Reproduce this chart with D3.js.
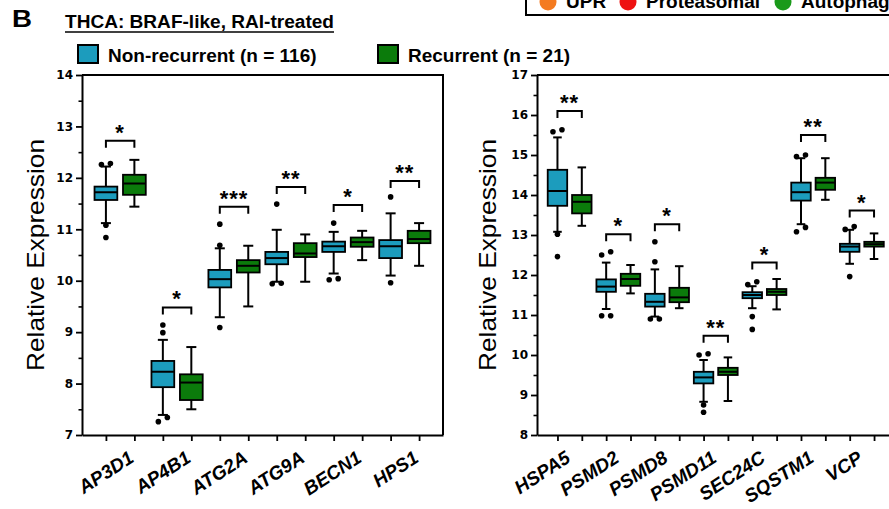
<!DOCTYPE html>
<html>
<head>
<meta charset="utf-8">
<script src="https://cdn.jsdelivr.net/npm/d3@7"></script>
<style>
  body { margin: 0; background: #fff; }
  svg { display: block; font-family: 'Liberation Sans', Arial, sans-serif; }
  .tick text { font-family: 'DejaVu Sans', sans-serif; font-weight: bold; font-size: 12px; }
</style>
</head>
<body>
<svg width="889" height="509"></svg>
<script>
// groups
const groupNames = ['Non-recurrent (n = 116)', 'Recurrent (n = 21)'];
const groupColors = ['#1c9cbd', '#0b7b0b'];
const pathwayNames = ['UPR', 'Proteasomal', 'Autophagy'];
const pathwayColors = ['#f47b20', '#ee1111', '#1a9a1a'];

// left panel: [whisker low, q1, median, q3, whisker high]
const leftGenes = ['AP3D1', 'AP4B1', 'ATG2A', 'ATG9A', 'BECN1', 'HPS1'];
const leftTicks = [7, 8, 9, 10, 11, 12, 13, 14];
const leftNonRec = [
  [11.12, 11.57, 11.72, 11.83, 12.22],
  [7.39, 7.93, 8.23, 8.44, 8.85],
  [9.29, 9.87, 10.03, 10.21, 10.63],
  [9.98, 10.32, 10.44, 10.56, 10.99],
  [10.14, 10.56, 10.67, 10.76, 10.95],
  [10.10, 10.44, 10.67, 10.79, 11.31]
];
const leftNonRecOut = [
  [12.26, 12.28, 11.08, 10.84],
  [8.99, 9.14, 7.34, 7.26],
  [10.69, 11.1, 9.09],
  [11.49, 9.94, 9.95],
  [11.12, 10.02, 10.04],
  [11.63, 9.96]
];
const leftRec = [
  [11.44, 11.67, 11.89, 12.06, 12.35],
  [7.50, 7.68, 8.02, 8.18, 8.71],
  [9.50, 10.16, 10.29, 10.40, 10.68],
  [9.98, 10.46, 10.53, 10.73, 10.90],
  [10.40, 10.66, 10.75, 10.84, 10.97],
  [10.29, 10.73, 10.81, 10.97, 11.12]
];
const leftRecOut = [[], [], [], [], [], []];
const leftSig = ['*', '*', '***', '**', '*', '**'];
const leftSigY = [12.72, 9.48, 11.44, 11.82, 11.47, 11.94];

// right panel
const rightGenes = ['HSPA5', 'PSMD2', 'PSMD8', 'PSMD11', 'SEC24C', 'SQSTM1', 'VCP'];
const rightTicks = [8, 9, 10, 11, 12, 13, 14, 15, 16, 17];
const rightNonRec = [
  [13.08, 13.73, 14.10, 14.63, 15.44],
  [11.15, 11.58, 11.71, 11.89, 12.31],
  [10.96, 11.21, 11.33, 11.53, 12.14],
  [8.83, 9.29, 9.44, 9.58, 9.875],
  [11.17, 11.42, 11.50, 11.57, 11.72],
  [13.27, 13.86, 14.07, 14.31, 14.92],
  [12.28, 12.58, 12.71, 12.78, 13.13]
];
const rightNonRecOut = [
  [15.58, 15.63, 13.02, 12.46],
  [12.50, 12.58, 10.98, 10.98],
  [12.33, 12.83, 10.90, 10.90],
  [10.0, 10.03, 8.75, 8.57],
  [11.76, 11.83, 10.96, 10.64],
  [14.96, 15.0, 13.19, 13.08],
  [13.14, 13.21, 11.96]
];
const rightRec = [
  [13.23, 13.54, 13.83, 14.0, 14.69],
  [11.54, 11.73, 11.90, 12.03, 12.25],
  [11.17, 11.32, 11.44, 11.68, 12.22],
  [8.85, 9.50, 9.58, 9.68, 9.94],
  [11.14, 11.50, 11.58, 11.65, 11.90],
  [13.88, 14.13, 14.31, 14.43, 14.92],
  [12.40, 12.71, 12.77, 12.83, 13.04]
];
const rightRecOut = [[], [], [], [], [], [], []];
const rightSig = ['**', '*', '*', '**', '*', '**', '*'];
const rightSigY = [16.1, 13.02, 13.27, 10.48, 12.31, 15.5, 13.61];

const svg = d3.select('svg');

// header
svg.append('text').attr('x', 12).attr('y', 27)
  .style('font-size', '23px').style('font-weight', 'bold')
  .attr('textLength', 20).attr('lengthAdjust', 'spacingAndGlyphs')
  .text('B');
svg.append('text').attr('x', 65).attr('y', 28)
  .style('font-size', '18px').style('font-weight', 'bold')
  .attr('textLength', 269).attr('lengthAdjust', 'spacingAndGlyphs')
  .text('THCA: BRAF-like, RAI-treated');
svg.append('line').attr('x1', 65).attr('x2', 334).attr('y1', 32).attr('y2', 32)
  .attr('stroke', '#000').attr('stroke-width', 1.5);

// group legend
const legX = [78, 378];
groupNames.forEach(function (name, i) {
  svg.append('rect').attr('x', legX[i]).attr('y', 45).attr('width', 20).attr('height', 18)
    .attr('fill', groupColors[i]).attr('stroke', '#000').attr('stroke-width', 2);
  svg.append('text').attr('x', legX[i] + 30).attr('y', 62)
    .style('font-size', '19px').style('font-weight', 'bold')
    .text(name);
});

// pathway legend (cut at top of the picture)
svg.append('rect').attr('x', 526).attr('y', -30).attr('width', 400).attr('height', 45)
  .attr('fill', 'none').attr('stroke', '#000').attr('stroke-width', 2);
const pathX = [548, 628, 783];
pathwayNames.forEach(function (name, i) {
  svg.append('circle').attr('cx', pathX[i]).attr('cy', 2).attr('r', 8.5)
    .attr('fill', pathwayColors[i]);
  svg.append('text').attr('x', pathX[i] + 18).attr('y', 8)
    .style('font-size', '19px').style('font-weight', 'bold')
    .text(name);
});

const drawPanel = function (cfg) {
  const g = svg.append('g');
  const y = d3.scaleLinear().domain(cfg.domain).range([435, 75]);
  const x = d3.scaleBand().domain(cfg.genes).range([cfg.x0, cfg.x1])
    .paddingInner(0).paddingOuter(0.17);
  const step = x.bandwidth();
  const subs = [];
  cfg.genes.forEach(function (gene) {
    subs.push(x(gene) + step / 4);
    subs.push(x(gene) + 3 * step / 4);
  });
  const boxW = 0.4 * step;
  const capW = 0.44 * boxW;

  // frame
  g.append('path')
    .attr('d', `M${cfg.x0},75H${cfg.x1}V435`)
    .attr('fill', 'none').attr('stroke', '#000').attr('stroke-width', 2);

  // y axis
  const minor = d3.range(cfg.domain[0], cfg.domain[1], 0.5).filter(d => d % 1 !== 0);
  g.append('g').attr('transform', `translate(${cfg.x0},0)`)
    .call(d3.axisLeft(y).tickValues(minor).tickSize(3.5).tickFormat(''))
    .call(a => a.select('.domain').remove())
    .call(a => a.selectAll('line').attr('stroke-width', 1.6));
  g.append('g').attr('transform', `translate(${cfg.x0},0)`)
    .call(d3.axisLeft(y).tickValues(cfg.ticks).tickFormat(d3.format('d'))
      .tickSize(6).tickPadding(3).tickSizeOuter(0))
    .call(a => a.select('.domain').attr('stroke-width', 2))
    .call(a => a.selectAll('line').attr('stroke-width', 1.8))
    .call(a => a.selectAll('text').attr('fill', '#000'));

  // x axis ticks at every box
  const xs = d3.scaleLinear().domain([cfg.x0, cfg.x1]).range([cfg.x0, cfg.x1]);
  g.append('g').attr('transform', 'translate(0,435)')
    .call(d3.axisBottom(xs).tickValues(subs).tickSize(6).tickFormat('').tickSizeOuter(0))
    .call(a => a.select('.domain').attr('stroke-width', 2))
    .call(a => a.selectAll('line').attr('stroke-width', 1.8));

  // gene labels
  g.selectAll('.gene').data(cfg.genes).enter().append('text')
    .attr('transform', d => `translate(${x(d) + step / 2 + cfg.labDx},461) rotate(-33)`)
    .attr('text-anchor', 'end')
    .style('font-size', '19px').style('font-weight', 'bold').style('font-style', 'italic')
    .text(d => d);

  // y title
  g.append('text')
    .attr('transform', `translate(${cfg.titleX},255) rotate(-90)`)
    .attr('text-anchor', 'middle')
    .style('font-size', '24px')
    .attr('textLength', 232).attr('lengthAdjust', 'spacingAndGlyphs')
    .text('Relative Expression');

  // boxes
  const series = [
    { stats: cfg.nonRec, out: cfg.nonRecOut, color: groupColors[0], off: 0 },
    { stats: cfg.rec, out: cfg.recOut, color: groupColors[1], off: 1 }
  ];
  series.forEach(function (s) {
    s.stats.forEach(function (st, i) {
      const cx = subs[2 * i + s.off];
      const bg = g.append('g');
      bg.append('line').attr('x1', cx).attr('x2', cx).attr('y1', y(st[0])).attr('y2', y(st[4]))
        .attr('stroke', '#000').attr('stroke-width', 2);
      [st[0], st[4]].forEach(function (v) {
        bg.append('line').attr('x1', cx - capW / 2).attr('x2', cx + capW / 2)
          .attr('y1', y(v)).attr('y2', y(v))
          .attr('stroke', '#000').attr('stroke-width', 2);
      });
      bg.append('rect').attr('x', cx - boxW / 2).attr('width', boxW)
        .attr('y', y(st[3])).attr('height', y(st[1]) - y(st[3]))
        .attr('fill', s.color).attr('stroke', '#000').attr('stroke-width', 1.8);
      bg.append('line').attr('x1', cx - boxW / 2).attr('x2', cx + boxW / 2)
        .attr('y1', y(st[2])).attr('y2', y(st[2]))
        .attr('stroke', '#000').attr('stroke-width', 2);

      // outliers, nudged sideways when they touch
      const pts = s.out[i].slice().sort(d3.ascending).map(v => ({ v: v, dx: 0 }));
      for (let k = 1; k < pts.length; k++) {
        if (Math.abs(y(pts[k].v) - y(pts[k - 1].v)) < 5 && pts[k - 1].dx === 0) {
          pts[k - 1].dx = -4.5;
          pts[k].dx = 4.5;
        }
      }
      bg.selectAll('circle').data(pts).enter().append('circle')
        .attr('cx', d => cx + d.dx).attr('cy', d => y(d.v)).attr('r', 2.8)
        .attr('fill', '#000');
    });
  });

  // significance brackets
  cfg.sig.forEach(function (label, i) {
    const xa = subs[2 * i];
    const xb = subs[2 * i + 1];
    const yb = y(cfg.sigY[i]);
    g.append('path').attr('d', `M${xa},${yb + 7}V${yb}H${xb}V${yb + 7}`)
      .attr('fill', 'none').attr('stroke', '#000').attr('stroke-width', 2);
    g.append('text').attr('x', (xa + xb) / 2).attr('y', yb - 1)
      .attr('text-anchor', 'middle')
      .style('font-size', '22px').style('font-weight', 'bold').style('letter-spacing', '1px')
      .text(label);
  });
};

drawPanel({
  genes: leftGenes, ticks: leftTicks, domain: [7, 14], x0: 82, x1: 443, titleX: 44, labDx: 15,
  nonRec: leftNonRec, nonRecOut: leftNonRecOut, rec: leftRec, recOut: leftRecOut,
  sig: leftSig, sigY: leftSigY
});
drawPanel({
  genes: rightGenes, ticks: rightTicks, domain: [8, 17], x0: 537, x1: 894.5, titleX: 496, labDx: 2,
  nonRec: rightNonRec, nonRecOut: rightNonRecOut, rec: rightRec, recOut: rightRecOut,
  sig: rightSig, sigY: rightSigY
});
</script>
</body>
</html>
